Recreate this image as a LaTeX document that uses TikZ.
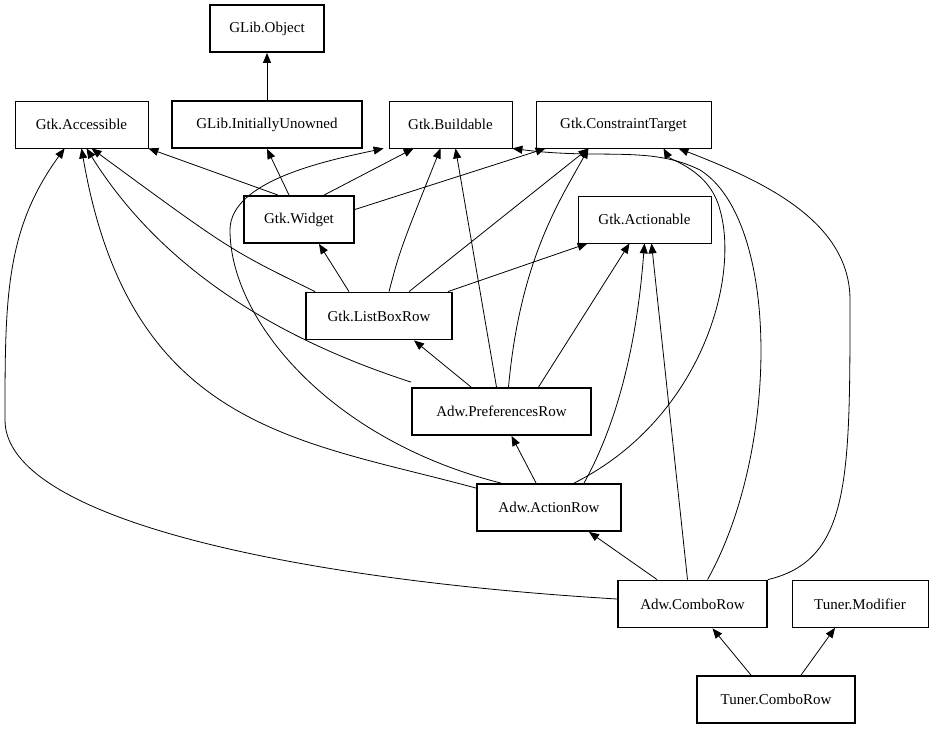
\documentclass[tikz,border=0pt]{standalone}
\usepackage{fontspec}
\setmainfont{Liberation Serif}
\usetikzlibrary{arrows.meta,calc}
\begin{document}
\begin{tikzpicture}[x=1pt,y=-1pt,
 box/.style={draw,rectangle,minimum height=47pt,font=\fontsize{15}{17}\selectfont,inner sep=0pt},
 thin/.style={box,line width=0.8pt},
 thick/.style={box,line width=1.8pt},
 e/.style={-{Triangle[length=10pt,width=8pt]},line width=0.8pt}]
\useasboundingbox (0,0) rectangle (933,731);
\node[thick,minimum width=114pt] (obj) at (267,28.5) {GLib.Object};
\node[thin,minimum width=133pt] (acc) at (81.5,124.5) {Gtk.Accessible};
\node[thick,minimum width=190pt] (iu) at (267,124.5) {GLib.InitiallyUnowned};
\node[thin,minimum width=123pt] (bld) at (450.5,124.5) {Gtk.Buildable};
\node[thin,minimum width=175pt] (ct) at (623.5,124.5) {Gtk.ConstraintTarget};
\node[thick,minimum width=110pt] (wid) at (299,219.5) {Gtk.Widget};
\node[thin,minimum width=133pt] (act) at (644.5,219.5) {Gtk.Actionable};
\node[thick,minimum width=146pt] (lbr) at (379,316) {Gtk.ListBoxRow};
\node[thick,minimum width=179pt] (pr) at (501.5,411.5) {Adw.PreferencesRow};
\node[thick,minimum width=144pt] (ar) at (549,507.5) {Adw.ActionRow};
\node[thick,minimum width=149pt] (cr) at (692.5,604) {Adw.ComboRow};
\node[thin,minimum width=136pt] (tm) at (860,604) {Tuner.Modifier};
\node[thick,minimum width=158pt] (tcr) at (776,699.5) {Tuner.ComboRow};

\draw[e] (iu.north) -- (obj.south);
% Widget
\draw[e] ($(wid.north west)+(35,0)$) -- (acc.south east);
\draw[e] ($(wid.north)+(-10,0)$) -- (iu.south);
\draw[e] ($(wid.north)+(25,0)$) -- ($(bld.south west)+(25,0)$);
\draw[e] ($(wid.east)+(0,-10)$) -- ($(ct.south west)+(10,0)$);
% ListBoxRow
\draw[e] ($(lbr.north west)+(10,0)$) .. controls (230,250) .. ($(acc.south)+(10,0)$);
\draw[e] ($(lbr.north)+(-30,0)$) -- ($(wid.south)+(20,0)$);
\draw[e] ($(lbr.north)+(10,0)$) .. controls (400,250) .. ($(bld.south)+(-10,0)$);
\draw[e] ($(lbr.north)+(30,0)$) -- ($(ct.south)+(-35,0)$);
\draw[e] ($(lbr.north east)+(-5,0)$) -- ($(act.south west)+(10,0)$);
% PreferencesRow
\draw[e] ($(pr.north west)+(0,-5)$) .. controls (250,330) and (150,250) .. ($(acc.south)+(5,0)$);
\draw[e] ($(pr.north west)+(60,0)$) -- ($(lbr.south)+(35,0)$);
\draw[e] ($(pr.north)+(-5,0)$) -- ($(bld.south)+(5,0)$);
\draw[e] ($(pr.north)+(7,0)$) .. controls (520,260) and (560,200) .. ($(ct.south)+(-35,0)$);
\draw[e] ($(pr.north)+(37,0)$) -- ($(act.south)+(-15,0)$);
% ActionRow
\draw[e] ($(ar.north west)+(0,5)$) .. controls (300,440) and (130,430) .. ($(acc.south)+(0,0)$);
\draw[e] ($(ar.north west)+(60,0)$) -- ($(pr.south)+(10,0)$);
\draw[e] ($(ar.north west)+(25,0)$) .. controls (330,440) and (230,320) .. (230,230) .. controls (230,180) and (330,160) .. ($(bld.south west)+(-5,0)$);
\draw[e] ($(ar.north)+(25,0)$) .. controls (700,420) and (740,280) .. (720,210) .. controls (710,170) and (670,160) .. ($(ct.south)+(40,0)$);
\draw[e] ($(ar.north)+(35,0)$) .. controls (630,400) and (640,300) .. ($(act.south)+(0,0)$);
% ComboRow
\draw[e] ($(cr.west)+(0,-5)$) .. controls (300,580) and (5,520) .. (5,420) .. controls (5,300) and (5,230) .. ($(acc.south west)+(50,0)$);
\draw[e] ($(cr.north west)+(40,0)$) -- ($(ar.south)+(40,0)$);
\draw[e] ($(cr.north)+(-5,0)$) -- ($(act.south)+(7,0)$);
\draw[e] ($(cr.north)+(15,0)$) .. controls (780,450) and (780,220) .. (700,170) .. controls (650,145) and (600,160) .. ($(bld.south east)+(0,0)$);
\draw[e] ($(cr.north east)+(0,0)$) .. controls (850,560) and (850,480) .. (850,300) .. controls (850,220) and (760,180) .. ($(ct.south)+(55,0)$);
% Tuner
\draw[e] ($(tcr.north)+(-25,0)$) -- ($(cr.south)+(20,0)$);
\draw[e] ($(tcr.north)+(25,0)$) -- ($(tm.south)+(-25,0)$);
\end{tikzpicture}
\end{document}
